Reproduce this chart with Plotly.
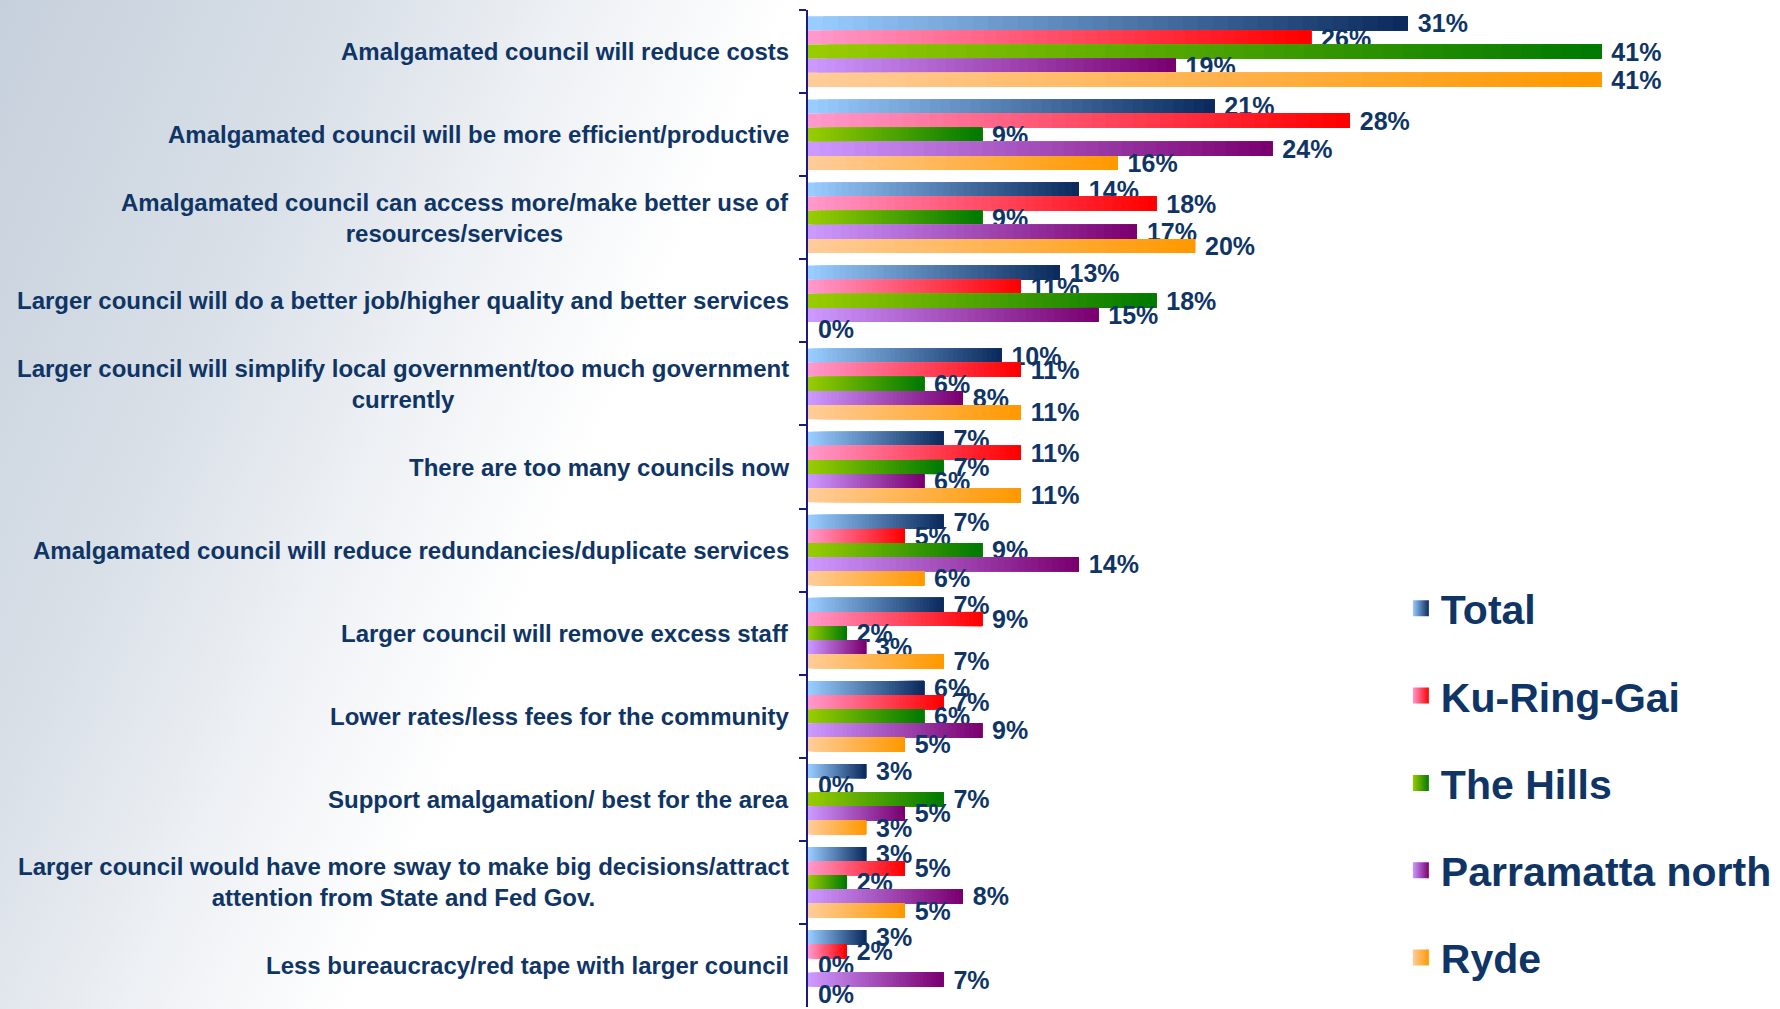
import base64
import plotly.graph_objects as go

# categories, top to bottom
categories = [
    "Amalgamated council will reduce costs",
    "Amalgamated council will be more efficient/productive",
    "Amalgamated council can access more/make better use of<br>resources/services",
    "Larger council will do a better job/higher quality and better services",
    "Larger council will simplify local government/too much government<br>currently",
    "There are too many councils now",
    "Amalgamated council will reduce redundancies/duplicate services",
    "Larger council will remove excess staff",
    "Lower rates/less fees for the community",
    "Support amalgamation/ best for the area",
    "Larger council would have more sway to make big decisions/attract<br>attention from State and Fed Gov.",
    "Less bureaucracy/red tape with larger council",
]

total = [31, 21, 14, 13, 10, 7, 7, 7, 6, 3, 3, 3]
ku_ring_gai = [26, 28, 18, 11, 11, 11, 5, 9, 7, 0, 5, 2]
the_hills = [41, 9, 9, 18, 6, 7, 9, 2, 6, 7, 2, 0]
parramatta_north = [19, 24, 17, 15, 8, 6, 14, 3, 9, 5, 8, 7]
ryde = [41, 16, 20, 0, 11, 11, 6, 7, 5, 3, 5, 0]

series_names = ["Total", "Ku-Ring-Gai", "The Hills", "Parramatta north", "Ryde"]
series_values = [total, ku_ring_gai, the_hills, parramatta_north, ryde]
# light -> dark end of each bar's gradient
series_colors = [
    ("#99CCFF", "#0B2B5E"),
    ("#FF99CC", "#FF0000"),
    ("#99CC00", "#007A00"),
    ("#CC99FF", "#7A0070"),
    ("#FFCC99", "#FF9900"),
]

NAVY = "#0F3566"
FONT = "Liberation Sans"
N_SEG = 40  # slices per bar to fake the gradient fill


def mix(c0, c1, t):
    a = [int(c0[i:i + 2], 16) for i in (1, 3, 5)]
    b = [int(c1[i:i + 2], 16) for i in (1, 3, 5)]
    return "rgb(%d,%d,%d)" % tuple(round(a[i] + (b[i] - a[i]) * t) for i in range(3))


fig = go.Figure()

for s, (name, vals, (c0, c1)) in enumerate(zip(series_names, series_values, series_colors)):
    # each slice runs to the bar end; later slices sit on top so no seams show
    for k in range(N_SEG):
        fig.add_trace(go.Bar(
            y=categories, x=[v * (N_SEG - k) / N_SEG for v in vals],
            base=[v * k / N_SEG for v in vals],
            orientation="h", offsetgroup=str(s),
            marker=dict(color=mix(c0, c1, k / (N_SEG - 1)), line=dict(width=0)),
            showlegend=False, hoverinfo="skip",
        ))
    # value labels
    fig.add_trace(go.Bar(
        y=categories, x=vals, orientation="h", offsetgroup=str(s),
        marker=dict(color="rgba(0,0,0,0)", line=dict(width=0)),
        text=[f"\u00a0{v}%" for v in vals], textposition="outside", constraintext="none",
        textfont=dict(family=FONT, size=25, color=NAVY, weight="bold"),
        cliponaxis=False, showlegend=False, hoverinfo="skip",
    ))
    # legend entry
    fig.add_trace(go.Scatter(
        x=[None], y=[None], mode="markers", name=name, legendgroup=name,
        marker=dict(symbol="square", size=16, color=c0,
                    gradient=dict(type="horizontal", color=c1)),
    ))

for cat in categories:
    fig.add_annotation(
        x=0.4445, xref="paper", y=cat, yref="y", text=cat, showarrow=False,
        xanchor="right", align="center",
        font=dict(family=FONT, size=24, color=NAVY, weight="bold"),
    )

svg = """<svg xmlns="http://www.w3.org/2000/svg" width="1780" height="1009">
<defs><linearGradient id="g" x1="0" y1="0" x2="1" y2="0.25">
<stop offset="0" stop-color="#C6D0DC"/>
<stop offset="0.18" stop-color="#D8DFE7"/>
<stop offset="0.3" stop-color="#EDF0F4"/>
<stop offset="0.42" stop-color="#FFFFFF"/>
<stop offset="1" stop-color="#FFFFFF"/>
</linearGradient></defs>
<rect width="1780" height="1009" fill="url(#g)"/></svg>"""
bg = "data:image/svg+xml;base64," + base64.b64encode(svg.encode()).decode()

fig.update_layout(
    width=1780, height=1009,
    margin=dict(l=0, r=0, t=0, b=0),
    paper_bgcolor="white", plot_bgcolor="rgba(0,0,0,0)",
    barmode="group", bargap=0.15, bargroupgap=0,
    images=[dict(source=bg, xref="paper", yref="paper", x=0, y=1, sizex=1, sizey=1,
                 xanchor="left", yanchor="top", sizing="stretch", layer="below")],
    xaxis=dict(domain=[808 / 1780, 0.9975], range=[0, 50], visible=False),
    yaxis=dict(domain=[0.002, 0.990], type="category", autorange="reversed",
               showline=True, linecolor="#1A1A80", linewidth=2,
               ticks="outside", tickson="boundaries", ticklen=7, tickwidth=2,
               tickcolor="#1A1A80", showticklabels=False, showgrid=False, zeroline=False),
    legend=dict(x=0.787, y=0.43, xanchor="left", yanchor="top",
                font=dict(family=FONT, size=41, color=NAVY, weight="bold"),
                bgcolor="rgba(0,0,0,0)", tracegroupgap=31, itemsizing="trace"),
    showlegend=True,
)

fig.write_html("out.html", config={"displayModeBar": False},
               post_script="document.body.style.margin='0';")
